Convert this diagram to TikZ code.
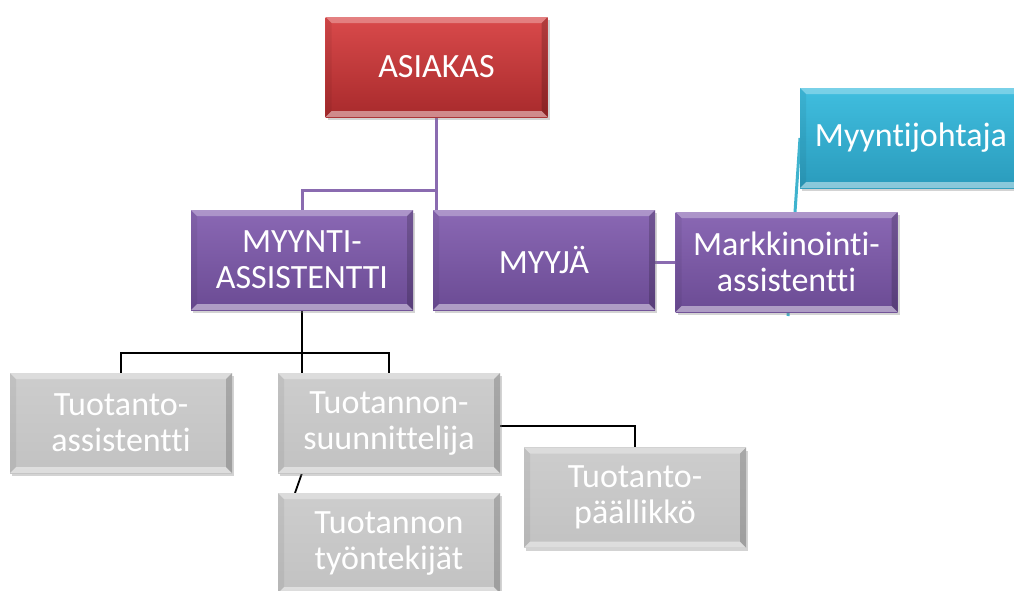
\documentclass[tikz,border=0pt]{standalone}
\usepackage{fontspec}
\setmainfont{Carlito}[Ligatures={NoCommon}]
\usetikzlibrary{shadows,backgrounds}
\definecolor{redtop}{HTML}{D94A4B}
\definecolor{redbot}{HTML}{A82A2C}
\definecolor{purtop}{HTML}{8A68B4}
\definecolor{purbot}{HTML}{6B4B94}
\definecolor{teatop}{HTML}{40BEDF}
\definecolor{teabot}{HTML}{2A9BBC}
\definecolor{grytop}{HTML}{CDCDCD}
\definecolor{grybot}{HTML}{C2C2C2}
\definecolor{purline}{HTML}{8A6BB0}
\definecolor{tealine}{HTML}{3FB3CE}
\tikzset{
  boxbase/.style={rectangle, minimum width=222pt, minimum height=100pt,
    inner sep=0pt, outer sep=0pt, text=white, align=center,
    font=\fontsize{34}{36}\selectfont,
    drop shadow={shadow xshift=2pt, shadow yshift=-3pt, opacity=0.35},
    path picture={
      \fill[white,opacity=0.30] (path picture bounding box.north west) -- (path picture bounding box.north east)
        -- ([xshift=-6pt,yshift=-6pt]path picture bounding box.north east) -- ([xshift=6pt,yshift=-6pt]path picture bounding box.north west) -- cycle;
      \fill[white,opacity=0.45] (path picture bounding box.south west) -- (path picture bounding box.south east)
        -- ([xshift=-6pt,yshift=6pt]path picture bounding box.south east) -- ([xshift=6pt,yshift=6pt]path picture bounding box.south west) -- cycle;
      \fill[black,opacity=0.18] (path picture bounding box.north east) -- (path picture bounding box.south east)
        -- ([xshift=-6pt,yshift=6pt]path picture bounding box.south east) -- ([xshift=-6pt,yshift=-6pt]path picture bounding box.north east) -- cycle;
      \fill[black,opacity=0.06] (path picture bounding box.north west) -- (path picture bounding box.south west)
        -- ([xshift=6pt,yshift=6pt]path picture bounding box.south west) -- ([xshift=6pt,yshift=-6pt]path picture bounding box.north west) -- cycle;
    }},
  redbox/.style={boxbase, top color=redtop, bottom color=redbot},
  purbox/.style={boxbase, top color=purtop, bottom color=purbot},
  teabox/.style={boxbase, top color=teatop, bottom color=teabot},
  grybox/.style={boxbase, top color=grytop, bottom color=grybot},
  purconn/.style={draw=purline, line width=3pt},
  teaconn/.style={draw=tealine, line width=3pt},
  blkconn/.style={draw=black, line width=1.8pt},
}
\begin{document}
\begin{tikzpicture}[x=1pt,y=-1pt]
\useasboundingbox (0,0) rectangle (1014,590);
\clip (0,0) rectangle (1014,590);
\node[redbox] (asiakas) at (436.5,67) {ASIAKAS};
\node[purbox] (myynti) at (302,260) {MYYNTI-\\ASSISTENTTI};
\node[purbox] (myyja) at (544,260) {MYYJÄ};
\node[purbox] (mark) at (786.5,262) {Markkinointi-\\assistentti};
\node[teabox] (johtaja) at (911,138) {Myyntijohtaja};
\node[grybox] (tass) at (121,423) {Tuotanto-\\assistentti};
\node[grybox] (suun) at (389,423) {Tuotannon-\\suunnittelija};
\node[grybox] (tyo) at (389,543) {Tuotannon\\työntekijät};
\node[grybox] (pal) at (635,497.5) {Tuotanto-\\päällikkö};
\coordinate (j1) at (436.5,190);
\coordinate (tealow) at (788,316);
\begin{scope}[on background layer]
\draw[purconn] (asiakas.south) -- (asiakas.south |- myyja.north);
\draw[purconn] (j1) -| (myynti.north);
\draw[purconn] (mark.west) -- (mark.west -| myyja.east);
\draw[teaconn] (tealow) -- (johtaja.west);
\draw[blkconn] (myynti.south) -- (myynti.south |- suun.north);
\draw[blkconn] (tass.north) -- ++(0,-20) -| (suun.north);
\draw[blkconn] (myynti.south |- suun.south) -- ([xshift=-94pt]tyo.north);
\draw[blkconn] ([yshift=-3pt]suun.east) -| (pal.north);
\end{scope}
\end{tikzpicture}
\end{document}
